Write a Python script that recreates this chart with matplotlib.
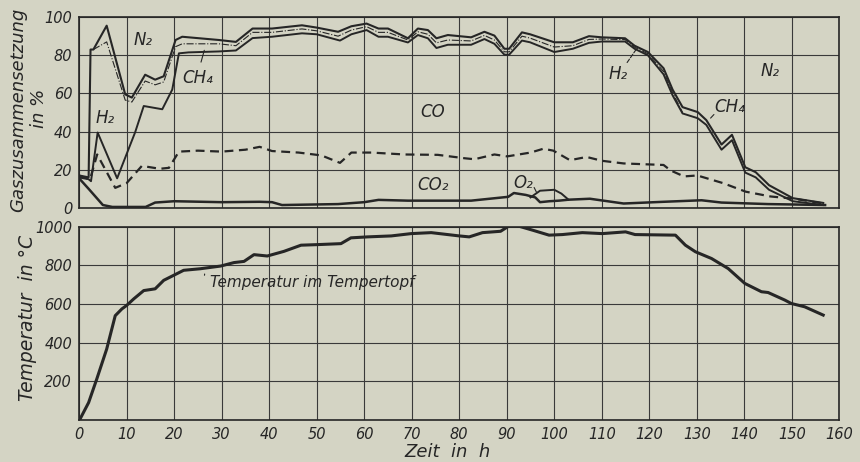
import matplotlib
matplotlib.use('Agg')
import matplotlib.pyplot as plt

# Gaszusammensetzung (kumulativ, %) über Zeit (h)
x_up = [0, 2, 2.4, 3, 5.8, 9.7, 11.1, 13.9, 16, 17.8, 20.3, 21.7, 29.4, 33, 36.5, 40.6, 46.9, 50,
        54.5, 57.3, 60.5, 63, 65, 69.2, 71.3, 73.4, 75.2, 77.6, 82.5, 85.3, 87.4, 89.5, 90.5, 93.2,
        94.9, 100, 103.9, 107.3, 110, 114.9, 116.9, 119.7, 123, 124.9, 127, 130.2, 132, 135.2,
        137.4, 140.2, 142.4, 145.2, 150.2, 156.6]
y_up = [17, 16, 83, 83, 95.5, 59.5, 57.8, 69.8, 67.2, 69, 88, 89.7, 88, 87, 94, 94, 95.7, 94.5,
        92.3, 95.2, 96.6, 94, 94, 88.9, 94, 93.2, 88.9, 90.6, 89.4, 92.3, 90.3, 83.4, 83.4, 92,
        91, 86.8, 86.8, 90, 89.4, 88.9, 85, 81.7, 73.2, 62, 52.8, 50.2, 46, 33.2,
        38.3, 21.3, 18.7, 11.9, 5.1, 2.6]

x_mid = [3, 5.8, 9.7, 11.1, 13.9, 16, 17.8, 20.3, 21.7, 29.4, 33, 36.5, 40.6, 46.9, 50, 54.5,
         57.3, 60.5, 63, 65, 69.2, 71.3, 73.4, 75.2, 77.6, 82.5, 85.3, 87.4, 89.5, 90.5, 93.2,
         94.9, 100, 103.9, 107.3, 110, 114.9, 116.9, 119.7, 123, 124.9, 127]
y_mid = [83, 87, 56.5, 55.5, 66.5, 64.5, 66, 84.5, 86, 86, 85, 92, 92, 93.8, 92.8, 90,
         93.2, 95, 92, 92, 88, 92.3, 91, 86.5, 88, 87.5, 90.4, 88, 81.8, 81.8, 90,
         89, 84.3, 85, 88.3, 88.5, 88.2, 84.2, 80.8, 71.5, 60.5, 50]

x_lo = [0, 2, 2.5, 3.9, 8, 11.8, 13.6, 17.5, 19.6, 21, 23, 29.4, 33, 36.5, 40.6, 46.9, 50, 54.9,
        57.3, 60.5, 63, 65, 69.2, 71.3, 73.4, 75.2, 77.6, 82.5, 85.3, 87.4, 89.5, 90.5, 93.2, 94.9,
        100, 103.9, 107.3, 110, 114.9, 116.9, 119.7, 123, 124.9, 127, 130.2, 132, 135.2, 137.4,
        140.2, 142.4, 145.2, 150.2, 156.6]
y_lo = [17, 15, 14, 39.5, 15.5, 39.7, 53.4, 51.7, 62, 81, 81.5, 82, 82.5, 89, 89.7, 91.5, 91, 87.7,
        91, 93.2, 89.7, 89.7, 86.7, 90.6, 88.9, 83.8, 85.5, 85.5, 88.5, 86, 80.3, 80.3, 87.7, 86.8,
        81.7, 83.4, 86.5, 87.2, 87.2, 83.4, 80, 70, 59, 49.5, 47, 43.5, 30.5, 35.5,
        18.5, 16, 9.5, 3.5, 1.5]

x_co = [0, 2.3, 3.8, 7.6, 10, 13.2, 17, 18.9, 21, 25, 30, 35, 38, 40.6, 46.2, 51, 54.9, 57.3,
        61.5, 68.5, 75.5, 81.2, 83.2, 87.4, 90.1, 95, 97.7, 99.8, 103.3, 106.8, 110, 114.6, 123,
        124.5, 127.3, 130.1, 135.5, 140.3, 145.5, 150.5, 156.7]
y_co = [16, 15, 28, 10.5, 13, 22, 20.5, 21, 29.5, 30, 29.5, 30.5, 32, 29.8, 29, 27.5, 23.6, 29,
        29, 28, 27.8, 26, 25.5, 28, 27, 29, 31, 30, 25, 26.7, 24.7, 23.3, 22.5,
        19.6, 16.5, 17, 13, 8.5, 6, 4.8, 2.3]

x_co2 = [0, 2, 5, 7, 14, 16, 20, 30, 38, 40.6, 42.7, 54.5, 60, 63, 69.2, 82.5, 90.3, 91.5, 94,
         96, 97, 99, 101, 103, 107.5, 114.6, 123, 131, 135.2, 145, 150, 157]
y_co2 = [15.5, 10, 1.5, 0.5, 0.5, 2.8, 3.5, 3, 3.2, 3, 1.5, 2, 3, 4.2, 3.8, 3.8, 5.8, 7.8, 6.8,
         5.5, 3, 3.5, 3.8, 4.3, 4.8, 2.3, 3.2, 4, 2.8, 2, 1.8, 1.5]

x_o2 = [95, 97, 100, 101.5, 103]
y_o2 = [5.5, 9, 9.5, 7.5, 4.3]

# Temperatur im Tempertopf (°C)
x_temp = [0.2, 2, 3.7, 5.8, 7.6, 9, 10, 11.5, 13.6, 16, 17.8, 19.9, 22, 25.5, 29.8, 32.6, 34.7,
          36.8, 39.6, 43.1, 46.7, 50.2, 55.1, 57.2, 60.7, 65.7, 69.9, 74.1, 80, 82.1, 84.9, 88.7,
          90.5, 92.6, 95.4, 98.9, 101.7, 105.9, 110.1, 115, 117, 125.5, 127.6, 129.7, 133.1,
          136.6, 140.1, 143.6, 145, 148.5, 149.9, 152.7, 156.6]
y_temp = [5, 90, 211, 367, 540, 575, 593, 627, 670, 679, 723, 749, 775, 783, 797, 815, 821,
          856, 849, 873, 905, 908, 913, 943, 948, 953, 965, 970, 953, 948, 970, 977,
          1005, 1003, 983, 957, 960, 970, 965, 974, 960, 957, 905, 871, 836,
          784, 707, 664, 660, 621, 603, 586, 543]

x_ticks = list(range(0, 161, 10))
gas_ticks = [0, 20, 40, 60, 80, 100]
temp_ticks = [0, 200, 400, 600, 800, 1000]
temp_labels = ['', '200', '400', '600', '800', '1000']

bg = '#d4d4c4'
ink = '#262626'
plt.rcParams['font.family'] = ['DejaVu Sans']
plt.rcParams['font.style'] = 'italic'

fig = plt.figure(figsize=(8.6, 4.62), dpi=100, facecolor=bg)
ax1 = fig.add_axes([0.092, 0.550, 0.884, 0.413], facecolor=bg)
ax2 = fig.add_axes([0.092, 0.091, 0.884, 0.418], facecolor=bg)

for ax in (ax1, ax2):
    ax.set_xlim(0, 160)
    ax.set_xticks(x_ticks)
    ax.grid(True, color='#3a3a3a', linewidth=0.8)
    ax.set_axisbelow(True)
    ax.tick_params(length=0, labelsize=10.5, colors=ink, pad=5)
    for s in ax.spines.values():
        s.set_color(ink)
        s.set_linewidth(1.2)

# oberes Diagramm
ax1.set_ylim(0, 100)
ax1.set_yticks(gas_ticks)
ax1.set_xticklabels([])
ax1.plot(x_up, y_up, color=ink, lw=1.5)
ax1.plot(x_mid, y_mid, color=ink, lw=0.8, ls='-.')
ax1.plot(x_lo, y_lo, color=ink, lw=1.4)
ax1.plot(x_co, y_co, color=ink, lw=1.6, ls=(0, (4, 2.5)))
ax1.plot(x_co2, y_co2, color=ink, lw=1.8)
ax1.plot(x_o2, y_o2, color=ink, lw=1.4)

lab = dict(color=ink, fontsize=12, ha='center', va='center', style='italic')
ax1.text(13.5, 88, 'N₂', **lab)
ax1.text(145.5, 72, 'N₂', **lab)
ax1.text(5.5, 47, 'H₂', **lab)
ax1.text(113.5, 70, 'H₂', **lab)
ax1.text(25, 68, 'CH₄', **lab)
ax1.text(137, 53, 'CH₄', **lab)
ax1.text(74.5, 50, 'CO', **lab)
ax1.text(74.5, 12, 'CO₂', **lab)
ax1.text(93.5, 13, 'O₂', **lab)
ax1.annotate('', xy=(26.5, 84), xytext=(25.5, 75),
             arrowprops=dict(arrowstyle='-', color=ink, lw=0.8))
ax1.annotate('', xy=(132.5, 46), xytext=(134, 50),
             arrowprops=dict(arrowstyle='-', color=ink, lw=0.8))
ax1.annotate('', xy=(117.5, 84), xytext=(115, 75),
             arrowprops=dict(arrowstyle='-', color=ink, lw=0.8, ls='--'))
ax1.annotate('', xy=(96.5, 7), xytext=(95.5, 12),
             arrowprops=dict(arrowstyle='-', color=ink, lw=0.8))

# unteres Diagramm
ax2.set_ylim(0, 1000)
ax2.set_yticks(temp_ticks)
ax2.set_yticklabels(temp_labels)
ax2.plot(x_temp, y_temp, color=ink, lw=2.2)
ax2.text(27.5, 710, 'Temperatur im Tempertopf', color=ink, fontsize=11,
         ha='left', va='center', style='italic')
ax2.annotate('', xy=(26.5, 770), xytext=(26.3, 735),
             arrowprops=dict(arrowstyle='-', color=ink, lw=0.8))

fig.text(0.021, 0.762, 'Gaszusammensetzung', rotation=90, ha='center', va='center',
         fontsize=13, color=ink, style='italic')
fig.text(0.045, 0.766, 'in %', rotation=90, ha='center', va='center',
         fontsize=13, color=ink, style='italic')
fig.text(0.032, 0.312, 'Temperatur  in °C', rotation=90, ha='center', va='center',
         fontsize=13.5, color=ink, style='italic')
fig.text(0.52, 0.022, 'Zeit  in  h', ha='center', va='center', fontsize=13,
         color=ink, style='italic')

fig.savefig('out.png', dpi=100, facecolor=bg)
